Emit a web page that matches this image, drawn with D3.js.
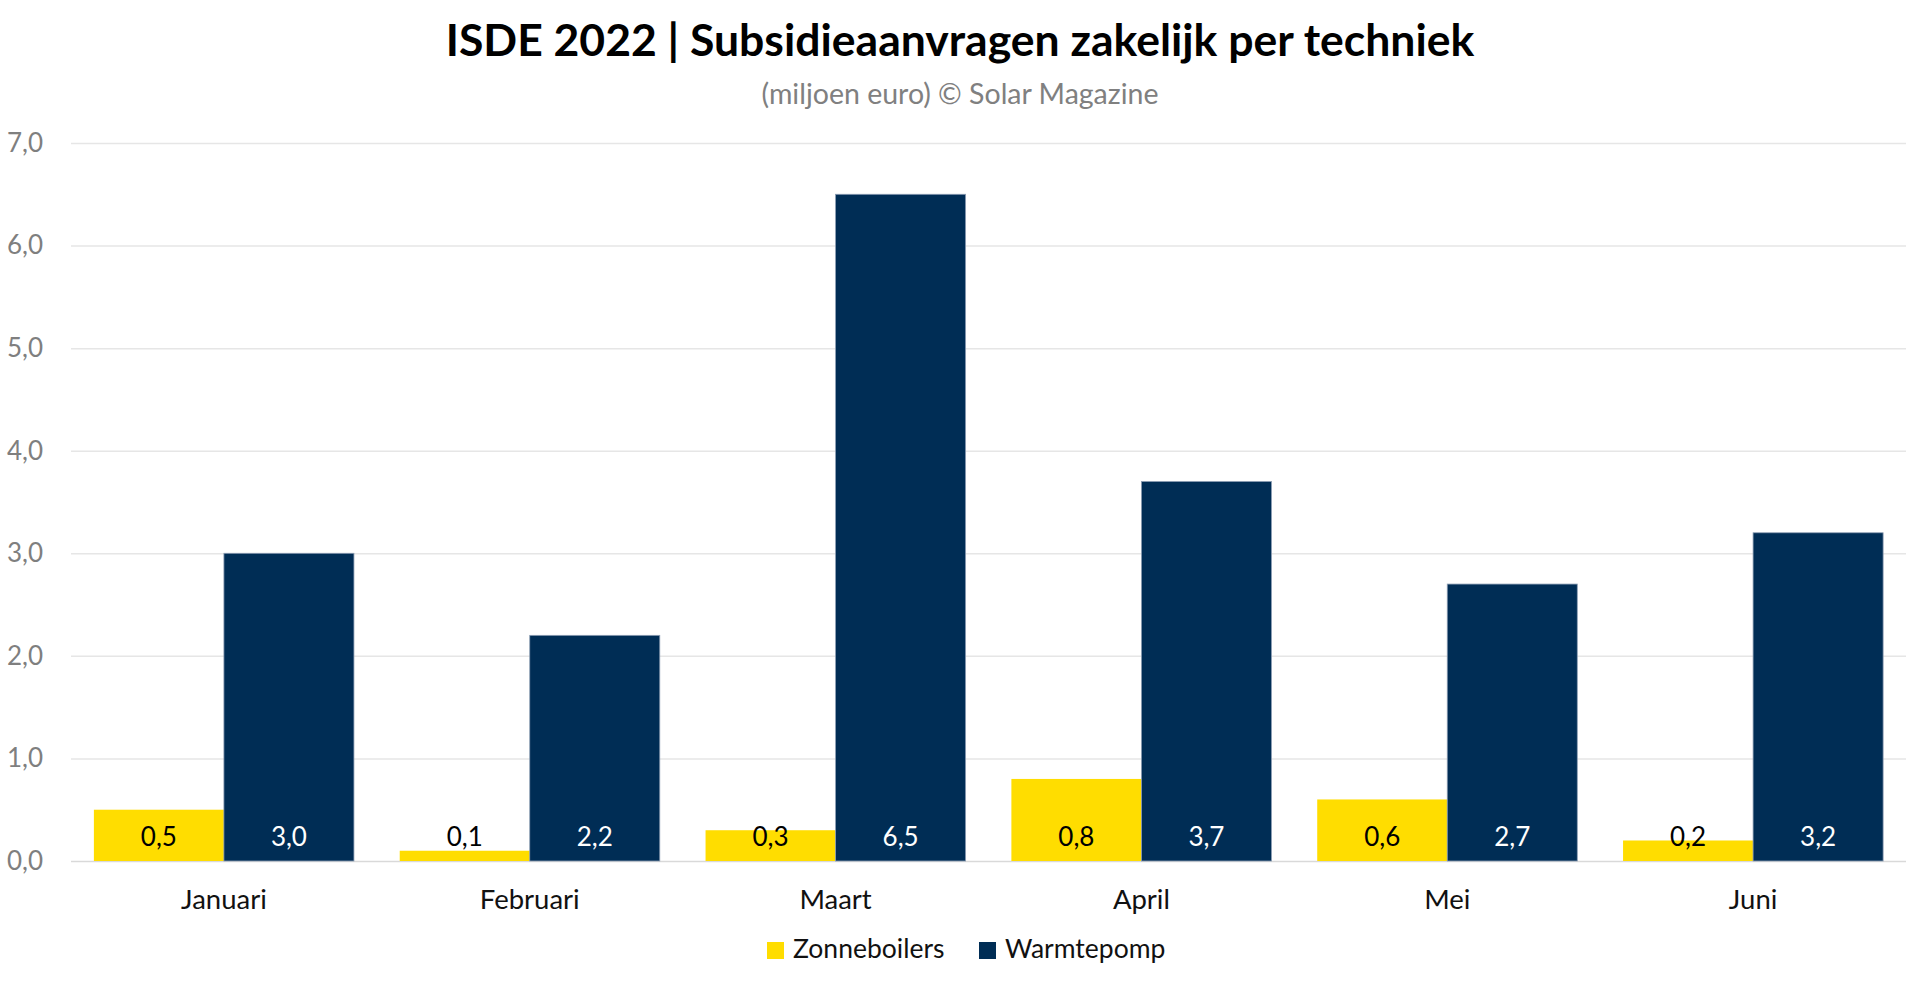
<!DOCTYPE html>
<html>
<head>
<meta charset="utf-8">
<script src="https://cdn.jsdelivr.net/npm/d3@7"></script>
<style>
  html, body { margin: 0; padding: 0; background: #fff; }
  svg { display: block; font-family: "Lato", "Open Sans", sans-serif; }
</style>
</head>
<body>
<svg id="chart" width="1920" height="981"></svg>
<script>
// data
const months = ["Januari", "Februari", "Maart", "April", "Mei", "Juni"]
const seriesNames = ["Zonneboilers", "Warmtepomp"]
const zonneboilers = [0.5, 0.1, 0.3, 0.8, 0.6, 0.2]
const warmtepomp = [3.0, 2.2, 6.5, 3.7, 2.7, 3.2]
const yTicks = [0, 1, 2, 3, 4, 5, 6, 7]
const colors = ["#FFDD00", "#002D55"]
const labelColors = ["#000", "#fff"]

const W = 1920, H = 981
const margin = { top: 143, right: 14, bottom: 120, left: 71 }

const nl = d3.formatLocale({ decimal: ",", thousands: ".", grouping: [3], currency: ["€", ""] })
const fmt = nl.format(".1f")

const svg = d3.select("#chart")

const x0 = d3.scaleBand()
  .domain(months)
  .range([margin.left, W - margin.right])
  .padding(0)

const x1 = d3.scaleBand()
  .domain(seriesNames)
  .range([0, x0.bandwidth()])
  .paddingInner(0)
  .paddingOuter(0.176)

const y = d3.scaleLinear()
  .domain([0, 7])
  .range([H - margin.bottom, margin.top])

// title + subtitle
svg.append("text")
  .attr("x", W / 2).attr("y", 56)
  .attr("text-anchor", "middle")
  .attr("font-size", 44.5).attr("font-weight", 700)
  .attr("fill", "#000")
  .text("ISDE 2022 | Subsidieaanvragen zakelijk per techniek")

svg.append("text")
  .attr("x", W / 2).attr("y", 104)
  .attr("text-anchor", "middle")
  .attr("font-size", 28.5)
  .attr("fill", "#808080")
  .text("(miljoen euro) © Solar Magazine")

// gridlines + y labels
const yAxis = svg.append("g")
  .attr("transform", "translate(" + margin.left + ",0)")
  .call(d3.axisLeft(y).tickValues(yTicks).tickFormat(fmt)
    .tickSize(-(W - margin.left - margin.right)).tickPadding(28))

yAxis.select(".domain").remove()
yAxis.selectAll(".tick line")
  .attr("stroke", (d) => d === 0 ? "#d9d9d9" : "#e6e6e6")
  .attr("stroke-width", 1.5)
yAxis.selectAll(".tick text")
  .attr("font-size", 26)
  .attr("fill", "#7f7f7f")
  .attr("font-family", "Lato, sans-serif")

// bars
const rows = months.map((m, i) => ({ month: m, values: [zonneboilers[i], warmtepomp[i]] }))

const groups = svg.append("g").selectAll("g")
  .data(rows)
  .join("g")
  .attr("transform", (d) => "translate(" + x0(d.month) + ",0)")

groups.selectAll("rect")
  .data((d) => d.values.map((v, k) => ({ key: seriesNames[k], k: k, v: v })))
  .join("rect")
  .attr("x", (d) => x1(d.key))
  .attr("y", (d) => y(d.v))
  .attr("width", x1.bandwidth())
  .attr("height", (d) => y(0) - y(d.v))
  .attr("fill", (d) => colors[d.k])
  .attr("stroke", (d) => d.k === 1 ? "#8c9db3" : "none")
  .attr("stroke-width", 0.8)

// value labels, sitting just above the base
groups.selectAll("text.val")
  .data((d) => d.values.map((v, k) => ({ key: seriesNames[k], k: k, v: v })))
  .join("text")
  .attr("class", "val")
  .attr("x", (d) => x1(d.key) + x1.bandwidth() / 2)
  .attr("y", y(0) - 15)
  .attr("text-anchor", "middle")
  .attr("font-size", 26)
  .attr("fill", (d) => labelColors[d.k])
  .text((d) => fmt(d.v))

// x labels
svg.append("g").selectAll("text")
  .data(months)
  .join("text")
  .attr("x", (d) => x0(d) + x0.bandwidth() / 2)
  .attr("y", y(0) + 48)
  .attr("text-anchor", "middle")
  .attr("font-size", 27.5)
  .attr("fill", "#111")
  .text((d) => d)

// legend
const legend = svg.append("g")
const legendX = [767, 979]
seriesNames.forEach((name, k) => {
  legend.append("rect")
    .attr("x", legendX[k]).attr("y", 942)
    .attr("width", 17).attr("height", 17)
    .attr("fill", colors[k])
  legend.append("text")
    .attr("x", legendX[k] + 26).attr("y", 958)
    .attr("font-size", 26.5)
    .attr("fill", "#111")
    .text(name)
})
</script>
</body>
</html>
